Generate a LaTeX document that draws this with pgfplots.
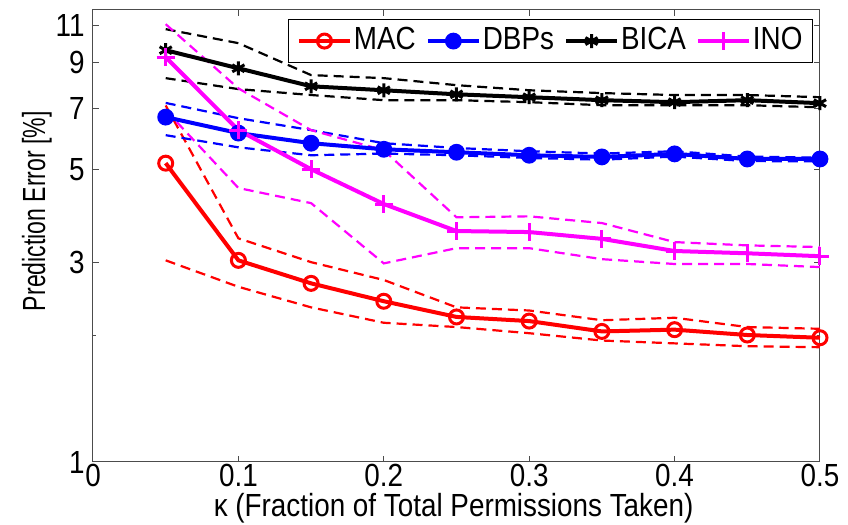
\documentclass[border=0pt]{standalone}
\usepackage{pgfplots}
\pgfplotsset{compat=1.18}
\usepackage{fontspec}
\setmainfont[FakeStretch=0.87]{Liberation Sans}
\newfontfamily\ylabfont[FakeStretch=0.72]{Liberation Sans}
\definecolor{mag}{RGB}{255,0,255}
\definecolor{rd}{RGB}{255,0,0}
\definecolor{bl}{RGB}{0,0,255}
\begin{document}
\fontsize{16}{19}\selectfont
\begin{tikzpicture}
\useasboundingbox (0,0) rectangle (424pt,262.5pt);
\begin{axis}[
  at={(46.5pt,31.5pt)}, anchor=south west,
  scale only axis, width=363.5pt, height=226pt,
  ymode=log, xmin=0, xmax=0.5, ymin=1, ymax=12,
  xtick={0,0.1,0.2,0.3,0.4,0.5}, xticklabels={0,0.1,0.2,0.3,0.4,0.5},
  ytick={1,3,5,7,9,11}, yticklabels={1,3,5,7,9,11},
  minor ytick={2},
  tick align=inside, major tick length=3pt, minor tick length=1.5pt,
  axis line style={black!70, line width=0.5pt},
  every tick/.style={black!70, line width=0.5pt},
  xticklabel style={inner sep=0pt}, xticklabel shift=1pt,
  yticklabel style={inner sep=0pt}, yticklabel shift=4pt,
  xlabel={κ (Fraction of Total Permissions Taken)},
  xlabel style={at={(axis description cs:0.496,-0.121)}, anchor=base, inner sep=0pt},
  ylabel={\ylabfont Prediction Error [\%]},
  ylabel style={at={(axis description cs:-0.066,0.555)}, anchor=base, inner sep=0pt},
  legend columns=4,
  legend style={at={(1,1)}, anchor=north east, xshift=-3.5pt, yshift=-4.5pt,
    draw=black, line width=0.5pt, fill=white, inner xsep=4pt, inner ysep=2pt,
    /tikz/every even column/.append style={column sep=4pt},
    nodes={inner xsep=1pt, inner ysep=2pt}},
  legend image code/.code={\draw[mark repeat=2, mark phase=2, #1] plot coordinates {(0pt,0pt) (12.75pt,0pt) (25.5pt,0pt)};},
  clip=false,
]
% dashed bounds
\addplot[rd, line width=1.1pt, dash pattern=on 5pt off 3pt, forget plot] coordinates {(0.05,7.1) (0.10,3.42) (0.15,3.0) (0.20,2.72) (0.25,2.34) (0.30,2.30) (0.35,2.18) (0.40,2.21) (0.45,2.10) (0.50,2.08)};
\addplot[rd, line width=1.1pt, dash pattern=on 5pt off 3pt, forget plot] coordinates {(0.05,3.03) (0.10,2.62) (0.15,2.34) (0.20,2.15) (0.25,2.10) (0.30,2.03) (0.35,1.95) (0.40,1.92) (0.45,1.89) (0.50,1.88)};
\addplot[bl, line width=1.1pt, dash pattern=on 5pt off 3pt, forget plot] coordinates {(0.05,7.2) (0.10,6.62) (0.15,6.20) (0.20,5.77) (0.25,5.62) (0.30,5.52) (0.35,5.45) (0.40,5.52) (0.45,5.36) (0.50,5.33)};
\addplot[bl, line width=1.1pt, dash pattern=on 5pt off 3pt, forget plot] coordinates {(0.05,6.03) (0.10,5.64) (0.15,5.40) (0.20,5.45) (0.25,5.40) (0.30,5.32) (0.35,5.27) (0.40,5.36) (0.45,5.23) (0.50,5.22)};
\addplot[black, line width=1.1pt, dash pattern=on 5pt off 3pt, forget plot] coordinates {(0.05,10.8) (0.10,10.0) (0.15,8.39) (0.20,8.25) (0.25,7.94) (0.30,7.72) (0.35,7.6) (0.40,7.52) (0.45,7.52) (0.50,7.43)};
\addplot[black, line width=1.1pt, dash pattern=on 5pt off 3pt, forget plot] coordinates {(0.05,8.25) (0.10,7.77) (0.15,7.52) (0.20,7.31) (0.25,7.31) (0.30,7.23) (0.35,7.11) (0.40,7.11) (0.45,7.11) (0.50,7.03)};
\addplot[mag, line width=1.1pt, dash pattern=on 5pt off 3pt, forget plot] coordinates {(0.05,11.1) (0.10,7.8) (0.15,6.2) (0.20,5.55) (0.25,3.84) (0.30,3.86) (0.35,3.72) (0.40,3.35) (0.45,3.29) (0.50,3.26)};
\addplot[mag, line width=1.1pt, dash pattern=on 5pt off 3pt, forget plot] coordinates {(0.05,6.92) (0.10,4.51) (0.15,4.15) (0.20,2.98) (0.25,3.24) (0.30,3.24) (0.35,3.05) (0.40,2.97) (0.45,2.97) (0.50,2.92)};
% means
\addplot[rd, line width=2pt, mark=o, mark size=3.5pt, mark options={solid, line width=1.5pt}] coordinates {(0.05,5.17) (0.10,3.03) (0.15,2.67) (0.20,2.42) (0.25,2.22) (0.30,2.17) (0.35,2.05) (0.40,2.07) (0.45,2.01) (0.50,1.98)};
\addlegendentry{MAC}
\addplot[bl, line width=2pt, mark=*, mark size=3.2pt, mark options={solid}] coordinates {(0.05,6.66) (0.10,6.10) (0.15,5.77) (0.20,5.58) (0.25,5.49) (0.30,5.40) (0.35,5.35) (0.40,5.44) (0.45,5.29) (0.50,5.29)};
\addlegendentry{DBPs}
\addplot[black, line width=2pt, mark=asterisk, mark size=3.5pt, mark options={solid, line width=1.5pt}] coordinates {(0.05,9.62) (0.10,8.71) (0.15,7.89) (0.20,7.72) (0.25,7.55) (0.30,7.43) (0.35,7.31) (0.40,7.23) (0.45,7.31) (0.50,7.19)};
\addlegendentry{BICA}
\addplot[mag, line width=2pt, mark=+, mark size=4.5pt, mark options={solid, line width=1.5pt}] coordinates {(0.05,9.26) (0.10,6.20) (0.15,5.0) (0.20,4.13) (0.25,3.56) (0.30,3.54) (0.35,3.41) (0.40,3.19) (0.45,3.15) (0.50,3.10)};
\addlegendentry{INO}
\end{axis}
\end{tikzpicture}
\end{document}
